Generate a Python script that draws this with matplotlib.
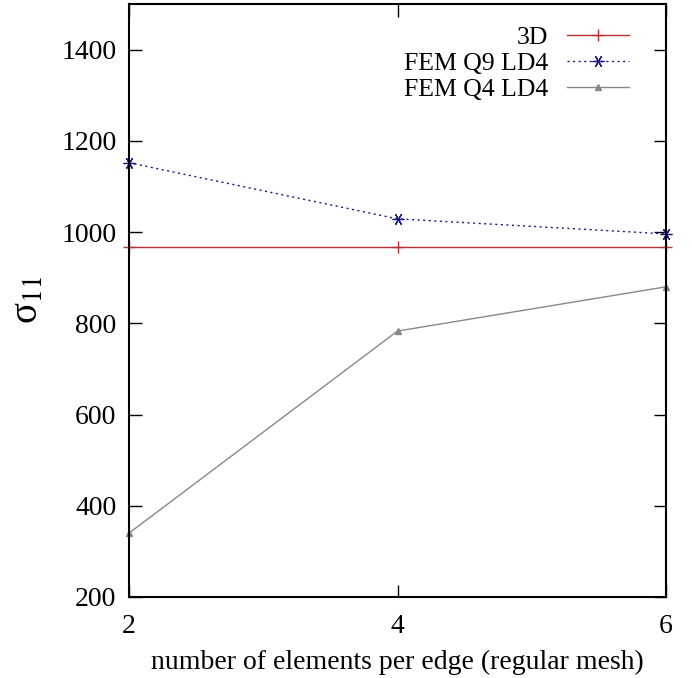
import numpy as np
import matplotlib
matplotlib.use("Agg")
import matplotlib.pyplot as plt

plt.rcParams['font.family'] = ['Liberation Serif', 'DejaVu Serif']
plt.rcParams['mathtext.fontset'] = 'stix'

# datos
elementos = [2, 4, 6]
sigma_3d = [967, 967, 967]
sigma_q9 = [1152, 1029, 996]
sigma_q4 = [340, 783, 880]

fig = plt.figure(figsize=(6.92, 6.78), dpi=100)
ax = fig.add_axes([129/692, 81/678, 537/692, 593/678])

ax.plot(elementos, sigma_3d, color='#b83030', lw=1.0, marker='+', ms=8,
        label='3D', clip_on=False)
ax.plot(elementos, sigma_q9, color='#1a1a80', lw=1.0, ls=(0, (1.5, 2.5)),
        marker=(6, 2, 90), ms=8.5, mew=0.9, label='FEM Q9 LD4', clip_on=False)
ax.plot(elementos, sigma_q4, color='#888888', lw=1.0, marker='^', ms=5,
        label='FEM Q4 LD4', clip_on=False)

ax.set_xlim(2, 6)
ax.set_ylim(200, 1500)
ax.set_xticks([2, 4, 6])
ax.set_yticks(range(200, 1401, 200))
ax.tick_params(direction='in', length=9, width=1, top=True, right=True,
               labelsize=20, pad=9)
ax.tick_params(axis='x', pad=12)
for s in ax.spines.values():
    s.set_linewidth(1.5)

ax.set_xlabel('number of elements per edge (regular mesh)', fontsize=20, labelpad=8)
ax.set_ylabel('σ$_{11}$', fontsize=28, labelpad=10)

ax.legend(loc='upper right', bbox_to_anchor=(0.932, 0.963), frameon=False,
          markerfirst=False, fontsize=18.5, handlelength=2.45, borderaxespad=0,
          borderpad=0, labelspacing=0.12, handletextpad=0.7)

plt.savefig('out.png', dpi=100)
